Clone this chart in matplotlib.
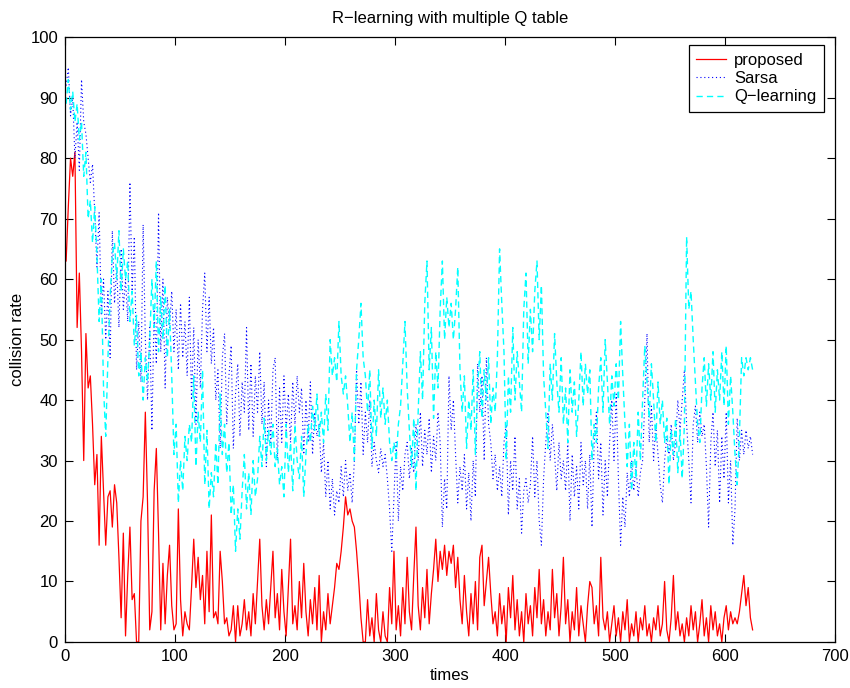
import numpy as np
import matplotlib
matplotlib.use("Agg")
import matplotlib.pyplot as plt

plt.rcParams['font.family'] = ['Liberation Sans', 'DejaVu Sans']

# every second episode, 1 .. 625
times = np.arange(1, 626, 2)

proposed = [
    63, 72, 80, 77, 81, 52, 61, 48, 30, 51,
    42, 44, 36, 26, 31, 16, 34, 25, 16, 24,
    25, 19, 26, 23, 14, 4, 18, 1, 11, 19,
    7, 8, 0, 0, 20, 24, 38, 23, 2, 5,
    25, 32, 18, 2, 13, 3, 11, 16, 6, 2,
    3, 22, 7, 1, 5, 3, 2, 9, 17, 9,
    14, 7, 11, 3, 15, 5, 21, 4, 5, 3,
    15, 10, 3, 4, 1, 2, 6, 0, 6, 1,
    3, 7, 2, 5, 1, 8, 3, 10, 17, 6,
    2, 7, 3, 9, 15, 4, 8, 2, 12, 5,
    1, 9, 17, 3, 6, 2, 10, 4, 13, 5,
    1, 7, 3, 9, 2, 11, 0, 5, 2, 8,
    3, 6, 9, 13, 12, 15, 19, 24, 21, 22,
    20, 19, 15, 10, 4, 0, 0, 7, 1, 4,
    0, 8, 2, 0, 5, 1, 0, 9, 3, 15,
    2, 6, 1, 9, 3, 14, 5, 2, 11, 19,
    6, 2, 9, 4, 12, 3, 8, 12, 17, 10,
    15, 12, 16, 11, 15, 13, 16, 9, 14, 7,
    3, 11, 5, 1, 8, 3, 10, 2, 14, 16,
    6, 10, 14, 8, 3, 5, 1, 8, 3, 6,
    0, 9, 4, 11, 2, 7, 1, 5, 0, 8,
    3, 6, 1, 9, 4, 12, 3, 7, 1, 5,
    2, 12, 4, 8, 1, 6, 14, 3, 7, 0,
    5, 2, 9, 1, 6, 3, 0, 6, 10, 9,
    3, 6, 1, 14, 4, 2, 5, 0, 3, 6,
    1, 4, 0, 5, 2, 7, 0, 3, 1, 5,
    0, 4, 2, 6, 1, 3, 0, 4, 2, 6,
    1, 3, 10, 2, 0, 4, 11, 2, 5, 1,
    3, 0, 4, 1, 6, 2, 5, 0, 3, 7,
    1, 4, 0, 6, 2, 5, 1, 3, 0, 4,
    6, 2, 5, 3, 4, 3, 5, 8, 11, 6,
    9, 4, 2,
]

sarsa = [
    92, 95, 87, 90, 80, 86, 78, 93, 86, 84,
    80, 76, 79, 71, 62, 71, 54, 60, 50, 58,
    47, 68, 56, 62, 52, 65, 55, 60, 53, 76,
    58, 67, 45, 53, 43, 69, 50, 40, 52, 35,
    55, 46, 71, 48, 60, 42, 57, 52, 58, 48,
    55, 45, 56, 47, 53, 44, 57, 40, 52, 36,
    50, 42, 55, 61, 48, 57, 46, 52, 40, 45,
    32, 47, 51, 36, 44, 49, 32, 41, 46, 34,
    43, 38, 52, 35, 46, 34, 44, 38, 48, 36,
    43, 29, 40, 33, 45, 47, 30, 42, 33, 44,
    35, 41, 33, 43, 36, 44, 38, 42, 31, 40,
    33, 43, 31, 38, 34, 36, 28, 33, 24, 30,
    22, 27, 21, 25, 23, 29, 24, 30, 25, 28,
    23, 30, 45, 36, 43, 31, 38, 33, 40, 29,
    33, 30, 28, 32, 29, 31, 27, 22, 15, 24,
    33, 20, 29, 25, 31, 33, 27, 32, 28, 36,
    30, 38, 29, 35, 31, 37, 28, 34, 30, 38,
    33, 19, 27, 22, 44, 35, 40, 31, 23, 29,
    25, 31, 22, 28, 20, 30, 24, 46, 38, 44,
    30, 47, 36, 33, 27, 31, 25, 29, 24, 33,
    36, 21, 30, 25, 34, 22, 27, 18, 25, 27,
    23, 26, 34, 24, 30, 20, 16, 27, 33, 38,
    30, 36, 31, 25, 33, 27, 30, 25, 33, 20,
    31, 24, 29, 22, 33, 26, 30, 22, 31, 19,
    33, 38, 27, 33, 21, 30, 24, 33, 40, 30,
    41, 27, 16, 24, 19, 28, 24, 30, 25, 29,
    24, 28, 30, 40, 51, 33, 39, 30, 36, 31,
    26, 23, 30, 34, 31, 36, 30, 33, 40, 35,
    40, 45, 36, 30, 23, 36, 39, 33, 38, 34,
    36, 29, 19, 33, 38, 29, 35, 23, 34, 27,
    38, 23, 30, 16, 22, 37, 30, 35, 31, 35,
    32, 34, 31,
]

qlearning = [
    89, 93, 88, 91, 86, 89, 83, 86, 77, 81,
    70, 73, 66, 72, 64, 53, 60, 42, 34, 47,
    57, 64, 66, 60, 68, 58, 65, 60, 63, 53,
    58, 49, 54, 44, 48, 40, 47, 43, 50, 60,
    52, 63, 48, 57, 50, 59, 47, 55, 44, 31,
    36, 23, 30, 25, 34, 30, 36, 33, 44, 29,
    38, 33, 45, 26, 35, 22, 28, 24, 33, 26,
    41, 31, 36, 28, 33, 21, 26, 15, 22, 17,
    25, 31, 22, 28, 21, 30, 24, 27, 34, 29,
    37, 30, 35, 31, 36, 29, 32, 26, 29, 24,
    36, 28, 33, 25, 36, 30, 27, 34, 24, 31,
    36, 33, 39, 35, 41, 34, 38, 33, 41, 35,
    50, 44, 47, 43, 53, 44, 41, 44, 39, 33,
    38, 30, 45, 50, 56, 47, 44, 38, 45, 32,
    40, 34, 45, 37, 42, 36, 40, 33, 30, 33,
    30, 36, 39, 46, 53, 42, 35, 29, 37, 25,
    38, 48, 40, 56, 63, 45, 52, 37, 48, 42,
    55, 63, 50, 57, 52, 56, 50, 55, 62, 45,
    38, 44, 32, 40, 35, 45, 31, 42, 48, 37,
    45, 40, 47, 36, 42, 38, 47, 65, 56, 48,
    30, 44, 38, 52, 40, 48, 43, 38, 55, 61,
    46, 55, 48, 58, 63, 50, 59, 44, 38, 32,
    46, 40, 51, 43, 38, 47, 36, 42, 33, 45,
    38, 43, 34, 40, 48, 39, 46, 41, 45, 30,
    36, 33, 42, 47, 38, 50, 43, 36, 44, 39,
    46, 40, 53, 44, 36, 29, 36, 25, 33, 27,
    38, 30, 40, 49, 43, 37, 46, 40, 33, 43,
    36, 40, 33, 37, 26, 35, 31, 37, 28, 35,
    27, 36, 67, 55, 58, 50, 43, 36, 33, 42,
    47, 39, 46, 40, 48, 38, 45, 40, 48, 39,
    49, 36, 44, 38, 31, 26, 34, 47, 44, 47,
    45, 47, 45,
]

fig = plt.figure(figsize=(8.5, 6.88), dpi=100)
ax = fig.add_axes([0.0765, 0.0669, 0.906, 0.879])

ax.plot(times, proposed, color='red', lw=0.9, label='proposed')
ax.plot(times, sarsa, color='blue', lw=0.8, linestyle=(0, (1, 2.5)), label='Sarsa')
ax.plot(times, qlearning, color='cyan', lw=1.0, linestyle=(0, (4.5, 3)), label='Q\u2212learning')

ax.set_xlim(0, 700)
ax.set_ylim(0, 100)
ax.set_xticks(np.arange(0, 701, 100))
ax.set_yticks(np.arange(0, 101, 10))
ax.tick_params(direction='in', top=True, right=True, length=6, width=0.8,
               labelsize=12, pad=5)
for s in ax.spines.values():
    s.set_linewidth(0.9)

ax.set_title('R\u2212learning with multiple Q table', fontsize=12, pad=10)
ax.set_xlabel('times', fontsize=12, labelpad=3)
ax.set_ylabel('collision rate', fontsize=12, labelpad=4)

leg = ax.legend(loc='upper right', bbox_to_anchor=(0.9857, 0.9868), borderaxespad=0,
                fontsize=12, fancybox=False, framealpha=1, edgecolor='black',
                borderpad=0.45, labelspacing=0.2, handlelength=1.8, handletextpad=0.5)
leg.get_frame().set_linewidth(0.9)

fig.savefig('out.png', dpi=100, facecolor='white')
